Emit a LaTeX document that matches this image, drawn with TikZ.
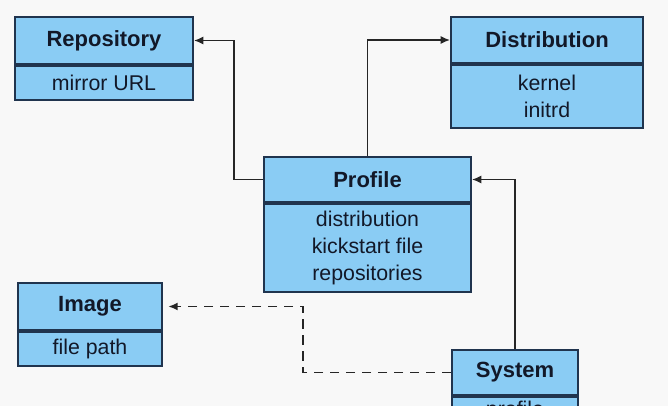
\documentclass[tikz,border=0pt]{standalone}
\usepackage{fontspec}
\setmainfont{Liberation Sans}
\usetikzlibrary{arrows.meta}
\definecolor{boxfill}{RGB}{138,204,244}
\definecolor{boxline}{RGB}{32,52,78}
\definecolor{txt}{RGB}{18,24,40}
\definecolor{bg}{RGB}{248,248,248}
\begin{document}
\begin{tikzpicture}[x=0.75pt,y=-0.75pt,
  cls/.style={draw=boxline, fill=boxfill, line width=1.5pt, inner sep=0pt, text=txt, align=center},
  hdr/.style={cls, font=\bfseries\fontsize{16.5}{20}\selectfont},
  bdy/.style={cls, font=\fontsize{16}{20}\selectfont},
  conn/.style={draw=black!85, line width=1.1pt},
  tip/.style={-{Latex[length=7pt,width=6pt]}},
  dashline/.style={dash pattern=on 7pt off 5pt}]
\fill[bg] (0,0) rectangle (668,406);
\useasboundingbox (0,0) rectangle (668,406);
\begin{scope}
\clip (0,0) rectangle (668,406);
% Repository
\node[hdr, minimum width=178*0.75pt, minimum height=47*0.75pt] (repoh) at (104,40.5) {Repository};
\node[bdy, anchor=north, minimum width=178*0.75pt, minimum height=34*0.75pt] (repob) at (repoh.south) {mirror URL};
% Distribution
\node[hdr, minimum width=192*0.75pt, minimum height=46*0.75pt] (disth) at (547,40) {Distribution};
\node[bdy, anchor=north, minimum width=192*0.75pt, minimum height=63*0.75pt] (distb) at (disth.south) {kernel\\initrd};
% Profile
\node[hdr, minimum width=207*0.75pt, minimum height=45*0.75pt] (profh) at (367.5,179.5) {Profile};
\node[bdy, anchor=north, minimum width=207*0.75pt, minimum height=88*0.75pt] (profb) at (profh.south) {distribution\\kickstart file\\repositories};
% Image
\node[hdr, minimum width=144*0.75pt, minimum height=47*0.75pt] (imgh) at (90,306.5) {Image};
\node[bdy, anchor=north, minimum width=144*0.75pt, minimum height=34*0.75pt] (imgb) at (imgh.south) {file path};
% System
\node[hdr, minimum width=126*0.75pt, minimum height=45*0.75pt] (sysh) at (515,372.5) {System};
\node[bdy, anchor=north, minimum width=126*0.75pt, minimum height=28*0.75pt] (sysb) at (sysh.south) {profile};
\end{scope}
% connectors
\draw[conn,tip] (profh.west) -- ++(-29,0) |- (repoh.east);
\draw[conn,tip] (profh.north) |- (disth.west);
\draw[conn,tip] (sysh.north) |- (profh.east);
\draw[conn,tip,dashline,shorten >=4pt] (sysh.west) -- ++(-148,0) |- (imgh.east);
\end{tikzpicture}
\end{document}
